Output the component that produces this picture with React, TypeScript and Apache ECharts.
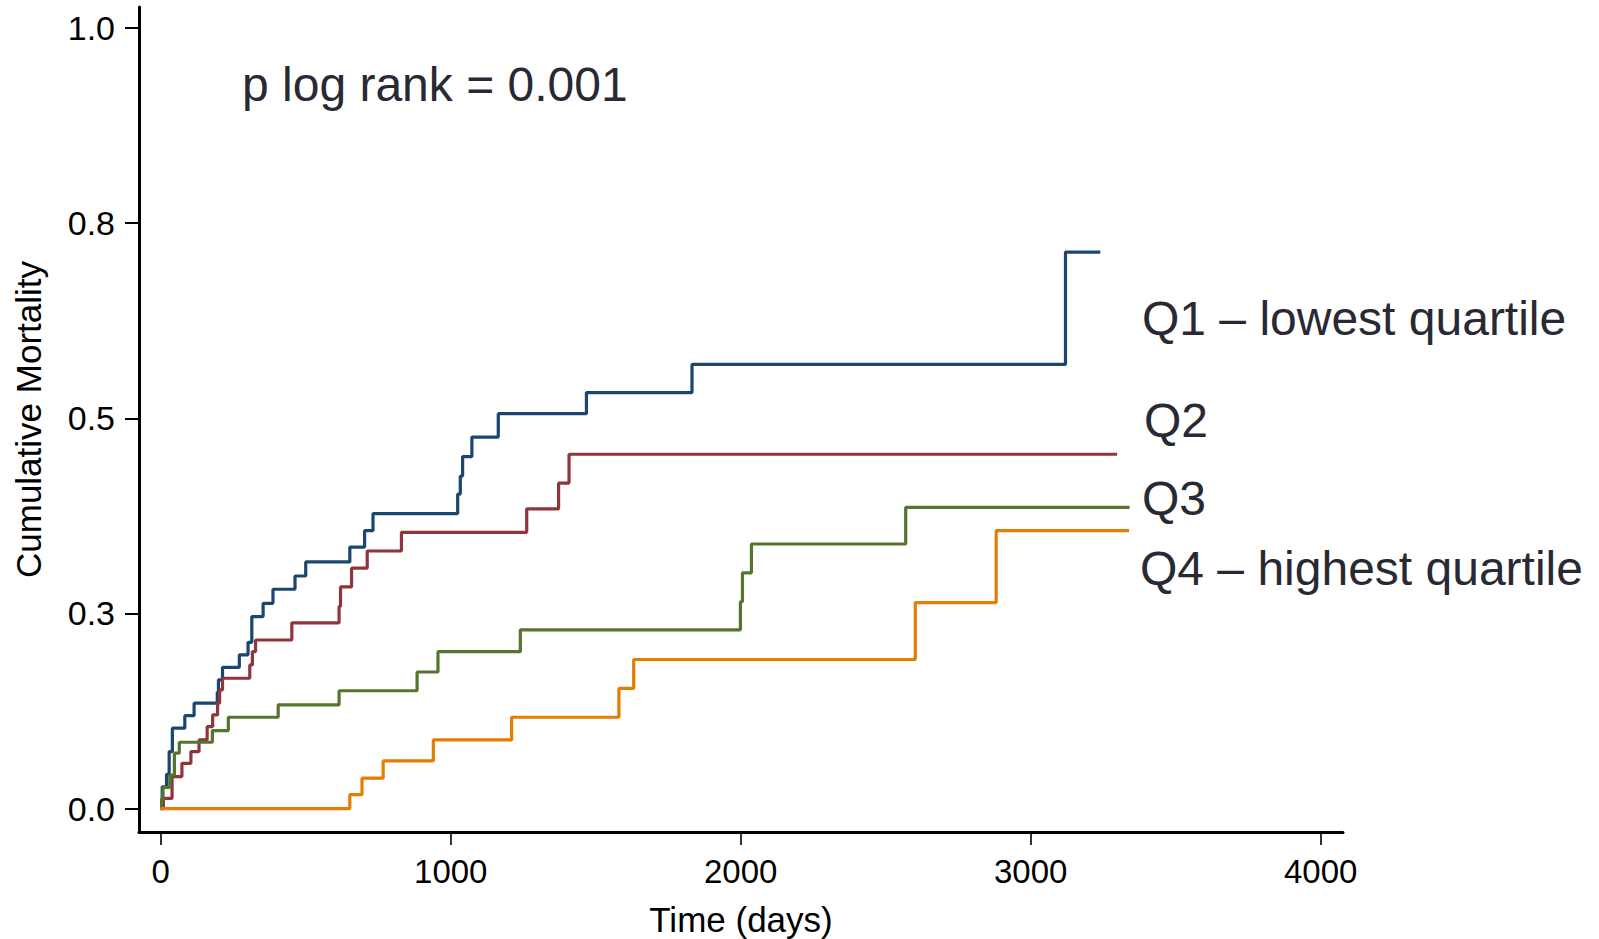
import React, { useEffect, useRef } from "react";
import * as echarts from "echarts";

// ---- Data ----
const q1Times = [0, 5, 20, 29, 40, 83, 115, 195, 199, 213, 271, 301, 314, 353, 387, 463, 500, 652, 703, 732, 1024, 1033, 1041, 1073, 1164, 1468, 1832, 3120, 3240];
const q1Values = [0, 0.028, 0.044, 0.073, 0.103, 0.119, 0.135, 0.149, 0.165, 0.181, 0.197, 0.213, 0.246, 0.263, 0.281, 0.298, 0.316, 0.335, 0.356, 0.378, 0.403, 0.426, 0.451, 0.476, 0.506, 0.533, 0.569, 0.713, 0.713];

const q2Times = [0, 9, 39, 73, 104, 132, 160, 179, 196, 203, 213, 307, 316, 327, 452, 615, 620, 658, 712, 830, 1262, 1372, 1408, 3298];
const q2Values = [0, 0.013, 0.041, 0.058, 0.073, 0.088, 0.105, 0.12, 0.135, 0.152, 0.167, 0.184, 0.201, 0.216, 0.238, 0.259, 0.284, 0.308, 0.33, 0.354, 0.384, 0.417, 0.454, 0.454];

const q3Times = [0, 3, 8, 31, 47, 64, 178, 233, 405, 615, 884, 956, 1240, 1999, 2006, 2037, 2569, 3341];
const q3Values = [0, 0.013, 0.027, 0.043, 0.071, 0.085, 0.1, 0.117, 0.133, 0.151, 0.175, 0.201, 0.229, 0.265, 0.302, 0.339, 0.386, 0.386];

const q4Times = [0, 652, 694, 767, 940, 1210, 1580, 1631, 2602, 2881, 3339];
const q4Values = [0, 0.018, 0.039, 0.061, 0.088, 0.117, 0.154, 0.191, 0.264, 0.356, 0.356];

const seriesNames = ["Q1 – lowest quartile", "Q2", "Q3", "Q4 – highest quartile"];
const seriesColors = ["#1a476f", "#90353b", "#55752f", "#e37e00"];

const xTickValues = [0, 1000, 2000, 3000, 4000];
const xTickLabels = ["0", "1000", "2000", "3000", "4000"];
const yTickValues = [0, 0.25, 0.5, 0.75, 1];
const yTickLabels = ["0.0", "0.3", "0.5", "0.8", "1.0"];

const xAxisTitle = "Time (days)";
const yAxisTitle = "Cumulative Mortality";
const annotation = "p log rank = 0.001";

const FONT = "Arial, 'Liberation Sans', Helvetica, sans-serif";

function pairs(t: number[], v: number[]) {
  return t.map((x, i) => [x, v[i]]);
}

function lookup(values: number[], labels: string[], v: number) {
  const i = values.findIndex((t) => Math.abs(t - v) < 1e-6);
  return i >= 0 ? labels[i] : "";
}

export default function App() {
  const ref = useRef<HTMLDivElement>(null);

  useEffect(() => {
    if (!ref.current) return;
    const chart = echarts.init(ref.current, undefined, { renderer: "svg" });
    const allData = [
      pairs(q1Times, q1Values),
      pairs(q2Times, q2Values),
      pairs(q3Times, q3Values),
      pairs(q4Times, q4Values),
    ];
    const labelColor = "#292933";
    const labelPos = [
      { x: 1142, y: 318 },
      { x: 1144, y: 420 },
      { x: 1142, y: 498 },
      { x: 1140, y: 568 },
    ];
    chart.setOption({
      animation: false,
      backgroundColor: "#ffffff",
      grid: {
        left: 139,
        top: 7,
        width: 1204,
        height: 825,
        containLabel: false,
        outerBoundsMode: "none",
      },
      xAxis: {
        type: "value",
        min: -75,
        max: 4077,
        name: xAxisTitle,
        nameLocation: "middle",
        nameGap: 70,
        nameTextStyle: { fontFamily: FONT, fontSize: 35, color: "#000" },
        axisLine: { show: true, onZero: false, lineStyle: { color: "#000", width: 3 } },
        axisTick: { show: true, length: 13, customValues: xTickValues, lineStyle: { color: "#000", width: 1.6 } },
        axisLabel: {
          customValues: xTickValues,
          margin: 23,
          fontFamily: FONT,
          fontSize: 33,
          color: "#000",
          formatter: (v: number) => lookup(xTickValues, xTickLabels, v),
        },
        splitLine: { show: false },
      },
      yAxis: {
        type: "value",
        min: -0.03,
        max: 1.027,
        name: yAxisTitle,
        nameLocation: "middle",
        nameGap: 93,
        nameTextStyle: { fontFamily: FONT, fontSize: 35, color: "#000" },
        axisLine: { show: true, onZero: false, lineStyle: { color: "#000", width: 3 } },
        axisTick: { show: true, length: 14, customValues: yTickValues, lineStyle: { color: "#000", width: 2 } },
        axisLabel: {
          customValues: yTickValues,
          margin: 24,
          fontFamily: FONT,
          fontSize: 34,
          color: "#000",
          formatter: (v: number) => lookup(yTickValues, yTickLabels, v),
        },
        splitLine: { show: false },
      },
      series: allData.map((d, i) => ({
        type: "line",
        name: seriesNames[i],
        data: d,
        step: "end",
        showSymbol: false,
        symbol: "none",
        lineStyle: { color: seriesColors[i], width: 3.2 },
        itemStyle: { color: seriesColors[i] },
        z: 2 + i,
      })),
      graphic: [
        {
          type: "text",
          x: 242,
          y: 84,
          style: {
            text: annotation,
            fontFamily: FONT,
            fontSize: 48,
            fill: labelColor,
            verticalAlign: "middle",
            align: "left",
          },
        },
        ...seriesNames.map((n, i) => ({
          type: "text",
          x: labelPos[i].x,
          y: labelPos[i].y,
          style: {
            text: n,
            fontFamily: FONT,
            fontSize: 48,
            fill: labelColor,
            verticalAlign: "middle",
            align: "left",
          },
        })),
      ],
    });
    return () => chart.dispose();
  }, []);

  return (
    <div
      ref={ref}
      style={{ position: "fixed", left: 0, top: 0, width: 1599, height: 939, background: "#fff" }}
    />
  );
}
